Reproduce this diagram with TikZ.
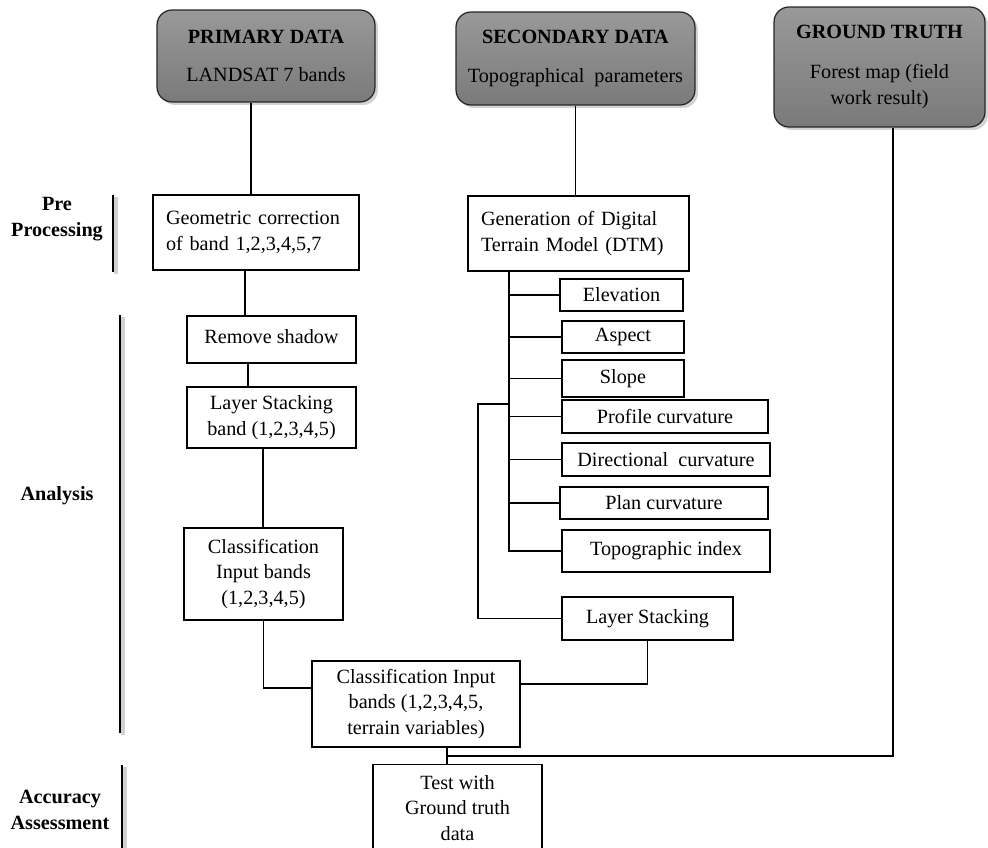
\documentclass[tikz,border=0pt]{standalone}
\usepackage{fontspec}
\setmainfont{Liberation Serif}
\usetikzlibrary{shadows}

\begin{document}
\begin{tikzpicture}[x=0.02cm,y=-0.02cm,line width=0.7pt,
    every node/.style={font=\fontsize{11.5}{14.7}\selectfont},
    databox/.style={draw=black!85,rounded corners=0.3cm,top color=black!40,bottom color=black!52,
      drop shadow={opacity=0.35,shadow xshift=0.06cm,shadow yshift=-0.06cm},align=center,inner sep=2pt},
    box/.style={draw,line width=0.8pt,align=center,inner sep=2pt},
    stage/.style={font=\fontsize{11.5}{14.7}\selectfont\bfseries,align=center},
    bar/.style={line width=1.6pt},
    barshade/.style={line width=2.4pt,black!18}]
    \useasboundingbox (0,0) rectangle (988,848);
    % data sources
    \node[databox,minimum width=4.36cm,minimum height=1.84cm] (primary) at (266,56) {\textbf{PRIMARY DATA}\\[7pt]LANDSAT 7 bands};
    \node[databox,minimum width=4.78cm,minimum height=1.86cm] (secondary) at (575.5,58.5) {\textbf{SECONDARY DATA}\\[7pt]Topographical\ \ parameters};
    \node[databox,minimum width=4.22cm,minimum height=2.4cm] (gtruth) at (879.5,67) {\textbf{GROUND TRUTH}\\[8pt]Forest map (field\\work result)};
    % stages
    \node[stage] (pre) at (57,219) {Pre\\Processing};
    \node[stage] (analysis) at (57,496) {Analysis};
    \node[stage] (accuracy) at (60,810) {Accuracy\\Assessment};
    \draw[barshade] (116,197)--(116,274);
    \draw[bar] (113,195)--(113,272);
    \draw[barshade] (123,317)--(123,735);
    \draw[bar] (120,315)--(120,733);
    \draw[barshade] (125,767)--(125,850);
    \draw[bar] (122,765)--(122,850);
    % landsat branch
    \node[box,minimum width=4.12cm,minimum height=1.5cm,text width=3.6cm,align=left] (geom) at (256,232.5) {Geometric correction\\of band 1,2,3,4,5,7};
    \node[box,minimum width=3.38cm,minimum height=0.94cm] (remove) at (271.5,339.5) {\raisebox{3pt}{Remove shadow}};
    \node[box,minimum width=3.38cm,minimum height=1.22cm] (lband) at (271.5,417.5) {Layer Stacking\\band (1,2,3,4,5)};
    \node[box,minimum width=3.18cm,minimum height=1.84cm] (classa) at (263.5,574) {Classification\\Input bands\\(1,2,3,4,5)};
    % terrain branch
    \node[box,minimum width=4.42cm,minimum height=1.5cm,text width=3.9cm,align=left] (dtm) at (578.5,233.5) {Generation of Digital\\Terrain Model (DTM)};
    \node[box,minimum width=2.46cm,minimum height=0.64cm] (elev) at (621.5,295) {Elevation};
    \node[box,minimum width=2.44cm,minimum height=0.64cm] (aspect) at (623,337) {Aspect};
    \node[box,minimum width=2.44cm,minimum height=0.74cm] (slope) at (623,378.5) {Slope};
    \node[box,minimum width=4.12cm,minimum height=0.66cm] (profile) at (665,416.5) {Profile curvature};
    \node[box,minimum width=4.16cm,minimum height=0.66cm] (direct) at (666,459.5) {Directional\ \ curvature};
    \node[box,minimum width=4.16cm,minimum height=0.64cm] (plan) at (664,503) {Plan curvature};
    \node[box,minimum width=4.16cm,minimum height=0.84cm] (topo) at (666,551) {Topographic index};
    \node[box,minimum width=3.42cm,minimum height=0.86cm] (lstack) at (647.5,618.5) {Layer Stacking};
    % merge and test
    \node[box,minimum width=4.16cm,minimum height=1.72cm] (cinput) at (416,704) {Classification Input\\bands (1,2,3,4,5,\\terrain variables)};
    \node[box,minimum width=3.38cm,minimum height=1.74cm] (test) at (457.5,808) {Test with\\Ground truth\\data};
    \coordinate (trunk) at (509,0);
    \coordinate (lsjoin) at (509,404);
    \coordinate (join) at (447,756);
    % connectors
    \draw (251,0 |- primary.south)--(251,0 |- geom.north);
    \draw (secondary.south)--(secondary.south |- dtm.north);
    \draw (245,0 |- geom.south)--(245,0 |- remove.north);
    \draw (248,0 |- remove.south)--(248,0 |- lband.north);
    \draw (263,0 |- lband.south)--(263,0 |- classa.north);
    \draw (classa.south) |- ([yshift=0.32cm]cinput.west);
    \draw (dtm.south -| trunk)--(topo.west -| trunk)--(topo.west);
    \draw (elev.west -| trunk)--(elev.west);
    \draw (aspect.west -| trunk)--(aspect.west);
    \draw (slope.west -| trunk)--(slope.west);
    \draw (profile.west -| trunk)--(profile.west);
    \draw (direct.west -| trunk)--(direct.west);
    \draw (plan.west -| trunk)--(plan.west);
    \draw (lsjoin) -| (lstack.west -| 478,0)--(lstack.west);
    \draw (lstack.south) |- ([yshift=0.4cm]cinput.east);
    \draw (gtruth.south -| 893,0) |- (join);
    \draw (cinput.south -| join)--(test.north -| join);
\end{tikzpicture}
\end{document}
